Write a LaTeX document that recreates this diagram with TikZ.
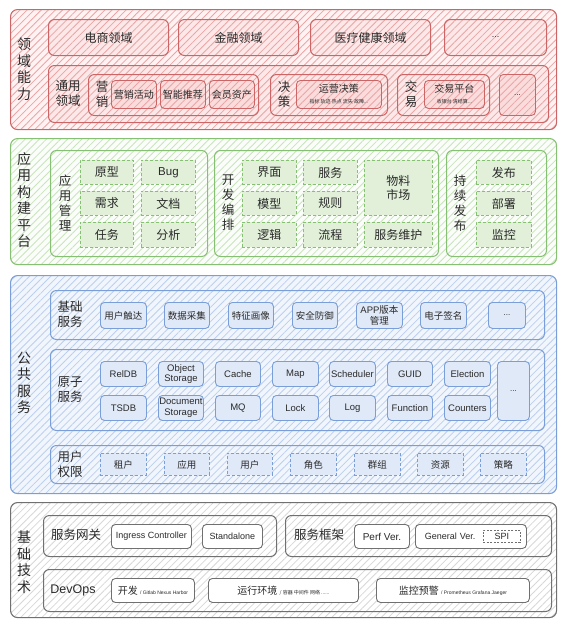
\documentclass[tikz,border=0pt]{standalone}
\usepackage{fontspec}
\setmainfont{Noto Sans CJK SC}
\newfontfamily\lat{Liberation Sans}
\usetikzlibrary{patterns.meta}
\definecolor{rline}{HTML}{CC6666}
\definecolor{rbg}{HTML}{FFF2F2}
\definecolor{rbg2}{HTML}{FCE8E8}
\definecolor{ritem}{HTML}{FADCDC}
\definecolor{rhatch}{HTML}{EBA5A5}
\definecolor{gline}{HTML}{86C072}
\definecolor{gbg}{HTML}{FBFDFA}
\definecolor{gitem}{HTML}{E2F0D9}
\definecolor{ghatch}{HTML}{C9E4BC}
\definecolor{bline}{HTML}{7A9FD8}
\definecolor{bbg}{HTML}{F1F5FC}
\definecolor{bitem}{HTML}{E0E9F8}
\definecolor{bhatch}{HTML}{BCCFEE}
\definecolor{kline}{HTML}{707070}
\definecolor{khatch}{HTML}{D8D8D8}
\definecolor{txt}{HTML}{2A2A2A}
\newcommand\mybox[7]{%
  \pgfmathsetmacro\mbW{#5-#3}%
  \pgfmathsetmacro\mbH{#6-#4}%
  \node[anchor=north west,inner sep=0pt,minimum width=\mbW pt,minimum height=\mbH pt,#2] (#1) at (#3,#4) {#7};}
\begin{document}
\begin{tikzpicture}[x=1pt,y=-1pt,
  every node/.style={text=txt,align=center},
  hatchy/.style 2 args={preaction={fill=#1},preaction={pattern={Lines[angle=45,distance=5pt,line width=0.8pt]},pattern color=#2}},
  outerbox/.style={draw=#1,line width=1.1pt,rounded corners=7pt},
  groupbox/.style={draw=#1,line width=1pt,rounded corners=6pt},
  itembox/.style={draw=#1,line width=0.9pt,rounded corners=4pt},
  rOuter/.style={outerbox=rline,hatchy={rbg}{rhatch}},
  rGroup/.style={groupbox=rline,hatchy={rbg2}{rhatch},font=\fontsize{12}{14}\selectfont},
  rItem/.style={itembox=rline,hatchy={ritem}{rhatch},font=\fontsize{10}{12}\selectfont},
  gOuter/.style={outerbox=gline,hatchy={gbg}{ghatch}},
  gGroup/.style={groupbox=gline,hatchy={gbg}{ghatch}},
  gItem/.style={draw=gline,line width=0.9pt,dash pattern=on 3pt off 2pt,fill=gitem,font=\fontsize{12}{14}\selectfont},
  bOuter/.style={outerbox=bline,hatchy={bbg}{bhatch}},
  bGroup/.style={groupbox=bline,hatchy={bbg}{bhatch}},
  bItem/.style={itembox=bline,fill=bitem,font=\fontsize{9.5}{10.5}\selectfont},
  bDash/.style={draw=bline,line width=0.9pt,dash pattern=on 3pt off 2pt,fill=bitem,font=\fontsize{9.5}{10.5}\selectfont},
  kOuter/.style={outerbox=kline,hatchy={white}{khatch}},
  kGroup/.style={groupbox=kline,hatchy={white}{khatch}},
  kItem/.style={itembox=kline,fill=white,font=\fontsize{10}{12}\selectfont},
  bigl/.style={font=\fontsize{14}{16.5}\selectfont},
  midl/.style={font=\fontsize{12.5}{15}\selectfont}
]
\useasboundingbox (0,0) rectangle (564,624);

% ---------------- red ----------------
\mybox{R}{rOuter}{10}{9}{556}{129}{}
\node[bigl] (Rl) at (24,69) {领\\域\\能\\力};
\mybox{d1}{rGroup}{48}{19}{168}{55}{电商领域}
\mybox{d2}{rGroup}{178}{19}{298}{55}{金融领域}
\mybox{d3}{rGroup}{310}{19}{430}{55}{医疗健康领域}
\mybox{d4}{rGroup,font=\lat\fontsize{9}{10}\selectfont}{444}{19}{546}{55}{...}
\mybox{ty}{rGroup}{48}{65}{548}{122}{}
\node[midl] (tyl) at (68,93) {通用\\领域};
\mybox{yx}{rGroup}{88}{74}{258}{115}{}
\node[midl] (yxl) at (102,94) {营\\销};
\mybox{yx1}{rItem}{111}{80}{156}{108}{营销活动}
\mybox{yx2}{rItem}{160}{80}{205}{108}{智能推荐}
\mybox{yx3}{rItem}{209}{80}{254}{108}{会员资产}
\mybox{jc}{rGroup}{270}{74}{387}{115}{}
\node[midl] (jcl) at (284,94) {决\\策};
\mybox{jc1}{rItem}{296}{80}{381}{108}{\fontsize{10}{11}\selectfont 运营决策\\[-1pt]\fontsize{5}{6}\selectfont 指标 轨迹 热点 流失 故障...}
\mybox{jy}{rGroup}{397}{74}{489}{115}{}
\node[midl] (jyl) at (411,94) {交\\易};
\mybox{jy1}{rItem}{424}{80}{484}{108}{\fontsize{10}{11}\selectfont 交易平台\\[-1pt]\fontsize{5}{6}\selectfont 收银台 清结算...}
\mybox{jy2}{rItem,font=\lat\fontsize{8}{9}\selectfont}{499}{74}{535}{115}{...}

% ---------------- green ----------------
\mybox{G}{gOuter}{10}{138}{556}{264}{}
\node[bigl] (Gl) at (24,200) {应\\用\\构\\建\\平\\台};
\mybox{am}{gGroup}{50}{150}{207}{256}{}
\node[midl] (aml) at (65,203) {应\\用\\管\\理};
\mybox{am1}{gItem}{80}{160}{133}{184}{原型}
\mybox{am2}{gItem,font=\lat\fontsize{11.5}{13}\selectfont}{141}{160}{195}{184}{Bug}
\mybox{am3}{gItem}{80}{191}{133}{215}{需求}
\mybox{am4}{gItem}{141}{191}{195}{215}{文档}
\mybox{am5}{gItem}{80}{222}{133}{247}{任务}
\mybox{am6}{gItem}{141}{222}{195}{247}{分析}
\mybox{kf}{gGroup}{214}{150}{438}{256}{}
\node[midl] (kfl) at (228,203) {开\\发\\编\\排};
\mybox{kf1}{gItem}{242}{160}{296}{184}{界面}
\mybox{kf2}{gItem}{303}{160}{357}{184}{服务}
\mybox{kf3}{gItem}{242}{191}{296}{215}{模型}
\mybox{kf4}{gItem}{303}{191}{357}{215}{规则}
\mybox{kf5}{gItem}{242}{222}{296}{247}{逻辑}
\mybox{kf6}{gItem}{303}{222}{357}{247}{流程}
\mybox{kf7}{gItem}{364}{160}{432}{215}{物料\\市场}
\mybox{kf8}{gItem}{364}{222}{432}{247}{服务维护}
\mybox{cx}{gGroup}{446}{150}{546}{256}{}
\node[midl] (cxl) at (460,203) {持\\续\\发\\布};
\mybox{cx1}{gItem}{476}{160}{531}{184}{发布}
\mybox{cx2}{gItem}{476}{191}{531}{215}{部署}
\mybox{cx3}{gItem}{476}{222}{531}{247}{监控}

% ---------------- blue ----------------
\mybox{B}{bOuter}{10}{275}{556}{493}{}
\node[bigl] (Bl) at (24,383) {公\\共\\服\\务};
\mybox{jf}{bGroup}{50}{290}{544}{339}{}
\node[midl] (jfl) at (70,314) {基础\\服务};
\mybox{jf1}{bItem}{100}{302}{146}{328}{用户触达}
\mybox{jf2}{bItem}{164}{302}{209}{328}{数据采集}
\mybox{jf3}{bItem}{228}{302}{273}{328}{特征画像}
\mybox{jf4}{bItem}{292}{302}{337}{328}{安全防御}
\mybox{jf5}{bItem}{356}{302}{402}{328}{\lat APP\normalfont 版本\\管理}
\mybox{jf6}{bItem}{420}{302}{466}{328}{电子签名}
\mybox{jf7}{bItem,font=\lat\fontsize{8}{9}\selectfont}{488}{302}{525}{328}{...}
\mybox{yz}{bGroup}{50}{349}{544}{430}{}
\node[midl] (yzl) at (70,390) {原子\\服务};
\tikzset{bL/.style={bItem,font=\lat\fontsize{9.5}{10.5}\selectfont}}
\mybox{yz1}{bL}{100}{361}{146}{386}{RelDB}
\mybox{yz2}{bL}{158}{361}{203}{386}{Object\\Storage}
\mybox{yz3}{bL}{215}{361}{260}{386}{Cache}
\mybox{yz4}{bL}{272}{361}{318}{386}{Map}
\mybox{yz5}{bL}{329}{361}{375}{386}{Scheduler}
\mybox{yz6}{bL}{387}{361}{432}{386}{GUID}
\mybox{yz7}{bL}{444}{361}{490}{386}{Election}
\mybox{yz8}{bL}{100}{395}{146}{420}{TSDB}
\mybox{yz9}{bL}{158}{395}{203}{420}{Document\\Storage}
\mybox{yz10}{bL}{215}{395}{260}{420}{MQ}
\mybox{yz11}{bL}{272}{395}{318}{420}{Lock}
\mybox{yz12}{bL}{329}{395}{375}{420}{Log}
\mybox{yz13}{bL}{387}{395}{432}{420}{Function}
\mybox{yz14}{bL}{444}{395}{490}{420}{Counters}
\mybox{yz15}{bItem,font=\lat\fontsize{8}{9}\selectfont}{497}{361}{529}{420}{...}
\mybox{qx}{bGroup}{50}{445}{544}{483}{}
\node[midl] (qxl) at (70,464) {用户\\权限};
\mybox{qx1}{bDash}{100}{453}{146}{475}{租户}
\mybox{qx2}{bDash}{164}{453}{209}{475}{应用}
\mybox{qx3}{bDash}{227}{453}{272}{475}{用户}
\mybox{qx4}{bDash}{290}{453}{336}{475}{角色}
\mybox{qx5}{bDash}{354}{453}{400}{475}{群组}
\mybox{qx6}{bDash}{417}{453}{463}{475}{资源}
\mybox{qx7}{bDash}{480}{453}{526}{475}{策略}

% ---------------- grey ----------------
\mybox{K}{kOuter}{10}{502}{556}{617}{}
\node[bigl] (Kl) at (24,562) {基\\础\\技\\术};
\mybox{wg}{kGroup}{43}{515}{276}{556}{}
\node[midl] (wgl) at (76,535) {服务网关};
\mybox{wg1}{kItem,font=\lat\fontsize{9}{10}\selectfont}{111}{524}{191}{548}{Ingress Controller}
\mybox{wg2}{kItem,font=\lat\fontsize{9}{10}\selectfont}{202}{524}{262}{548}{Standalone}
\mybox{kj}{kGroup}{285}{515}{551}{556}{}
\node[midl] (kjl) at (319,535) {服务框架};
\mybox{kj1}{kItem,font=\lat\fontsize{10}{11}\selectfont}{354}{524}{409}{548}{Perf Ver.}
\mybox{kj2}{kItem,font=\lat\fontsize{9}{10}\selectfont,text width=104pt,align=left}{415}{524}{526}{548}{\hspace*{6pt}General Ver.}
\mybox{kj3}{draw=kline,line width=0.9pt,dash pattern=on 2pt off 1.5pt,fill=white,font=\lat\fontsize{9}{10}\selectfont}{483}{530}{520}{542}{SPI}
\mybox{dv}{kGroup}{43}{569}{551}{611}{}
\node[font=\lat\fontsize{12.5}{14}\selectfont] (dvl) at (73,590) {DevOps};
\mybox{dv1}{kItem}{111}{578}{194}{602}{{\fontsize{10}{11}\selectfont 开发} {\lat\fontsize{5}{6}\selectfont / Gitlab Nexus Harbor}}
\mybox{dv2}{kItem}{208}{578}{358}{602}{{\fontsize{10}{11}\selectfont 运行环境} {\fontsize{5}{6}\selectfont / 容器 中间件 网络 ......}}
\mybox{dv3}{kItem}{376}{578}{529}{602}{{\fontsize{10}{11}\selectfont 监控预警} {\lat\fontsize{5}{6}\selectfont / Prometheus Grafana Jaeger}}
\end{tikzpicture}
\end{document}
